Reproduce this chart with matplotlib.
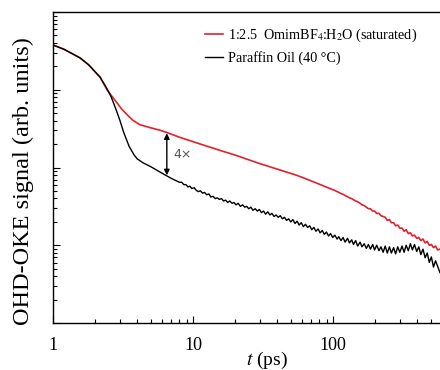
import numpy as np
import matplotlib
matplotlib.use('Agg')
import matplotlib.pyplot as plt
from matplotlib.ticker import LogLocator, NullFormatter

plt.rcParams['font.family'] = ['Liberation Serif', 'DejaVu Serif']
plt.rcParams['mathtext.fontset'] = 'stix'

# time (ps) and log10 of the signal (arb. units)
red_t = [1, 1.2, 1.56, 1.8, 2.0, 2.17, 2.43, 2.6, 2.87, 3.1, 3.38, 3.7, 4.18, 5.0, 5.8,
         6.5, 8, 10, 15.6, 20, 30, 45, 55, 65, 80,
         99.5, 103, 107, 110, 114, 118, 122, 127, 131, 136, 140, 145, 150, 156, 161,
         167, 173, 179, 185, 192, 198, 205, 213, 220, 228, 236, 244, 253, 261, 271,
         280, 290, 300, 311, 322, 333, 345, 357, 369, 382, 396, 410, 424, 439, 455,
         471, 487, 504, 522, 540, 559, 580]
red_log = [-0.424, -0.48, -0.59, -0.68, -0.77, -0.836, -1.00, -1.07, -1.17, -1.25,
           -1.32, -1.39, -1.45, -1.49, -1.52, -1.55, -1.61, -1.668, -1.78, -1.84,
           -1.95, -2.05, -2.10, -2.15, -2.215,
           -2.285, -2.295, -2.31, -2.32, -2.335, -2.345, -2.36, -2.375, -2.39, -2.40,
           -2.415, -2.43, -2.44, -2.46, -2.48, -2.49, -2.51, -2.53, -2.53, -2.56,
           -2.56, -2.59, -2.59, -2.62, -2.63, -2.64, -2.68, -2.67, -2.71, -2.71,
           -2.75, -2.74, -2.78, -2.78, -2.82, -2.80, -2.85, -2.84, -2.88, -2.87,
           -2.91, -2.90, -2.94, -2.92, -2.97, -2.95, -3.00, -2.99, -3.03, -3.01,
           -3.06, -3.05]

black_t = [1, 1.2, 1.56, 1.8, 2.0, 2.17, 2.4, 2.6, 2.8, 3.0, 3.2, 3.5, 3.8, 4.0, 4.4,
           5.0, 6.1, 7.0,
           8.0, 8.3, 8.6, 8.9, 9.2, 9.5, 9.8, 10.2, 10.5, 10.9,
           11.3, 11.7, 12.1, 12.5, 13.0, 13.4, 13.9, 14.4, 14.9, 15.4,
           16.0, 16.5, 17.1, 17.7, 18.3, 19.0, 19.6, 20.3, 21.0, 21.8,
           22.6, 23.4, 24.2, 25.0, 25.9, 26.8, 27.8, 28.8, 29.8, 30.8,
           31.9, 33.0, 34.2, 35.4, 36.6, 37.9, 39.2, 40.6, 42.0, 43.5,
           45.0, 46.6, 48.2, 49.9, 51.7, 53.5, 55.4, 57.3, 59.3, 61.4,
           63.6, 65.8, 68.1, 70.5, 73.0, 75.5, 78.2, 80.9, 83.8, 86.7,
           89.7, 92.9, 96.1, 99.5, 103, 107, 110, 114, 118, 122,
           127, 131, 136, 140, 145, 150, 156, 161, 167, 173,
           179, 185, 192, 198, 205, 213, 220, 228, 236, 244,
           253, 261, 271, 280, 290, 300, 311, 322, 333, 345,
           357, 369, 382, 396, 410, 424, 439, 455, 471, 487,
           504, 522, 540, 559, 580]
black_log = [-0.424, -0.48, -0.59, -0.68, -0.77, -0.84, -0.97, -1.09, -1.24, -1.39,
             -1.55, -1.73, -1.84, -1.89, -1.94, -1.99, -2.08, -2.14,
             -2.19, -2.19, -2.22, -2.22, -2.25, -2.24, -2.27, -2.26, -2.29, -2.31,
             -2.30, -2.33, -2.32, -2.35, -2.34, -2.38, -2.37, -2.40, -2.39, -2.41,
             -2.40, -2.43, -2.42, -2.45, -2.43, -2.46, -2.45, -2.48, -2.46, -2.50,
             -2.48, -2.51, -2.50, -2.53, -2.51, -2.55, -2.53, -2.56, -2.54, -2.58,
             -2.56, -2.60, -2.57, -2.61, -2.59, -2.63, -2.61, -2.64, -2.62, -2.66,
             -2.64, -2.68, -2.66, -2.70, -2.67, -2.72, -2.69, -2.74, -2.71, -2.76,
             -2.73, -2.77, -2.75, -2.80, -2.77, -2.82, -2.79, -2.84, -2.81, -2.86,
             -2.83, -2.88, -2.85, -2.90, -2.87, -2.92, -2.89, -2.94, -2.90, -2.96,
             -2.91, -2.97, -2.93, -2.99, -2.94, -3.01, -2.96, -3.02, -2.98, -3.04,
             -2.99, -3.05, -2.99, -3.06, -3.00, -3.07, -3.02, -3.09, -3.01, -3.10,
             -3.02, -3.10, -3.03, -3.11, -3.02, -3.09, -3.01, -3.09, -3.00, -3.07,
             -2.98, -3.06, -2.99, -3.08, -3.02, -3.12, -3.05, -3.16, -3.10, -3.22,
             -3.15, -3.28, -3.20, -3.27, -3.35]

red_label = r'1:2.5  OmimBF$_4$:H$_2$O (saturated)'
black_label = 'Paraffin Oil (40 °C)'

# arrow between the curves: time, upper and lower log10 signal
arrow_t = 6.5
arrow_top, arrow_bot = -1.56, -2.10

fig = plt.figure(figsize=(4.4, 3.7), dpi=100)
ax = fig.add_axes([0.1205, 0.127, 0.8795, 0.8405])

ax.plot(red_t, 10 ** np.array(red_log), color='#e3202b', lw=1.2, label=red_label)
ax.plot(black_t, 10 ** np.array(black_log), color='black', lw=1.0, label=black_label)

ax.annotate('', xy=(arrow_t, 10 ** arrow_bot), xytext=(arrow_t, 10 ** arrow_top),
            arrowprops=dict(arrowstyle='<|-|>', color='black', lw=1.0,
                            mutation_scale=8, shrinkA=0, shrinkB=0))
ax.text(arrow_t * 1.12, 10 ** ((arrow_top + arrow_bot) / 2), '4×',
        fontsize=9, family='DejaVu Sans', color='#555555', va='center', ha='left')

ax.set_xscale('log')
ax.set_yscale('log')
ax.set_xlim(1, 581)
ax.set_ylim(1e-4, 1)

ax.yaxis.set_major_locator(LogLocator(base=10, numticks=10))
ax.yaxis.set_minor_locator(LogLocator(base=10, subs=np.arange(2, 10), numticks=20))
ax.yaxis.set_major_formatter(NullFormatter())
ax.yaxis.set_minor_formatter(NullFormatter())
ax.xaxis.set_minor_formatter(NullFormatter())
ax.set_xticks([1, 10, 100])
ax.set_xticklabels(['1', '10', '100'])

ax.tick_params(which='both', direction='in', top=False, right=False)
ax.tick_params(which='major', length=5, width=0.8, labelsize=13, pad=10)
ax.tick_params(which='minor', length=3, width=0.8)
ax.spines['right'].set_visible(False)
for s in ['left', 'bottom', 'top']:
    ax.spines[s].set_linewidth(1.0)

ax.set_xlabel(r'$\it{t}$ (ps)', fontsize=14)
ax.xaxis.set_label_coords(0.553, -0.085)
ax.set_ylabel('OHD-OKE signal (arb. units)', fontsize=17.5)
ax.yaxis.set_label_coords(-0.05, 0.457)

leg = ax.legend(loc='upper left', bbox_to_anchor=(0.36, 0.995), frameon=False,
                fontsize=10.2, handlelength=1.25, handletextpad=0.4, labelspacing=0.5)

fig.savefig('out.png', dpi=100)
